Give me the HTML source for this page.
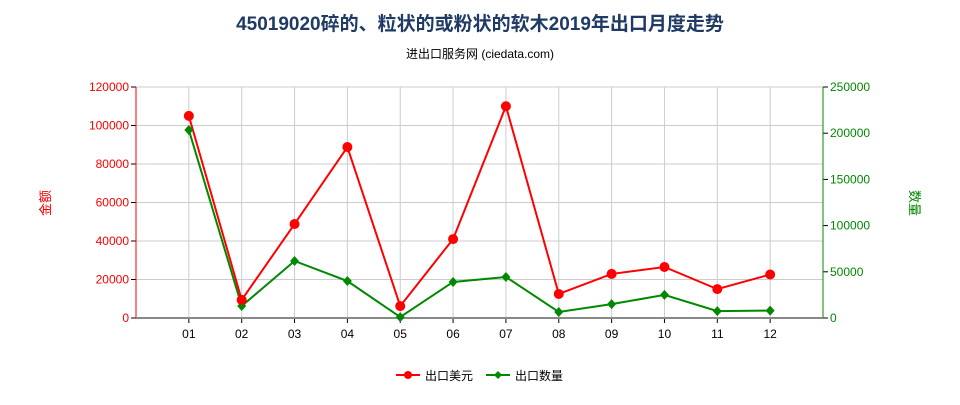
<!DOCTYPE html>
<html><head><meta charset="utf-8"><style>
body{margin:0;background:#fff;}
svg text{font-family:"Liberation Sans","Noto Sans CJK SC",sans-serif;}
</style></head><body>
<svg id="chart" width="960" height="400" xmlns="http://www.w3.org/2000/svg">
<text x="480" y="30" text-anchor="middle" font-size="19" font-weight="bold" fill="#1f3a64">45019020碎的、粒状的或粉状的软木2019年出口月度走势</text>
<text x="480" y="58" text-anchor="middle" font-size="12" fill="#000">进出口服务网 (ciedata.com)</text>
<g id="grid"></g>
<g id="axes"></g>
<g id="series"></g>
<text transform="translate(50,203) rotate(-90)" text-anchor="middle" font-size="13" fill="#f00">金额</text>
<text transform="translate(910,203) rotate(90)" text-anchor="middle" font-size="13" fill="#080">数量</text>
<g>
<line x1="396" y1="375" x2="420" y2="375" stroke="#f00" stroke-width="2"/><circle cx="408" cy="375" r="4" fill="#f00"/>
<text x="425" y="380" font-size="12" fill="#000">出口美元</text></g>
<g>
<line x1="486" y1="375" x2="510" y2="375" stroke="#080" stroke-width="2"/><path d="M498 371 L502 375 L498 379 L494 375Z" fill="#080"/>
<text x="515" y="380" font-size="12" fill="#000">出口数量</text></g>
</svg>
<script>
const categories=["01","02","03","04","05","06","07","08","09","10","11","12"];
const usdValues=[105000,9400,48800,88800,6200,41000,110000,12500,22900,26500,15000,22600];
const qtyValues=[203500,13000,61700,40000,1000,39000,44400,6500,15000,25000,7500,8000];
const leftTicks=[0,20000,40000,60000,80000,100000,120000];
const rightTicks=[0,50000,100000,150000,200000,250000];
const NS="http://www.w3.org/2000/svg";
const X0=136,X1=823,Y0=318,Y1=87;
const band=(X1-X0)/(categories.length+1);
const xs=i=>X0+(i+1)*band;
const yl=v=>Y0-(v/120000)*(Y0-Y1);
const yr=v=>Y0-(v/250000)*(Y0-Y1);
function mk(tag,attrs,parent){const e=document.createElementNS(NS,tag);for(const k in attrs)e.setAttribute(k,attrs[k]);parent.appendChild(e);return e;}
const grid=document.getElementById('grid'),axes=document.getElementById('axes'),series=document.getElementById('series');
leftTicks.forEach(t=>{const y=yl(t);
 const l=mk('line',{x1:X0,x2:X1,y1:y,y2:y,stroke:'#ccc'},grid);
 
 
 mk('line',{x1:X0-5,x2:X0,y1:y,y2:y,stroke:'#000'},axes);
 const tx=mk('text',{x:X0-7,y:y+4,'text-anchor':'end','font-size':12,fill:'#f00'},axes);tx.textContent=t;
 
 });
rightTicks.forEach(t=>{const y=yr(t);
 mk('line',{x1:X1,x2:X1+5,y1:y,y2:y,stroke:'#000'},axes);
 const tx=mk('text',{x:X1+7,y:y+4,'font-size':12,fill:'#080'},axes);tx.textContent=t;
 
 });
[X0,X1].concat(categories.map((c,i)=>xs(i))).forEach(x=>{mk('line',{x1:x,x2:x,y1:Y1,y2:Y0,stroke:'#ccc'},grid);});
categories.forEach((c,i)=>{const x=xs(i);
 mk('line',{x1:x,x2:x,y1:Y0,y2:Y0+5,stroke:'#000'},axes);
 const tx=mk('text',{x:x,y:Y0+20,'text-anchor':'middle','font-size':12,fill:'#000'},axes);tx.textContent=c;
 
 });
mk('line',{x1:X0,x2:X0,y1:Y1,y2:Y0,stroke:'#f00'},axes);
mk('line',{x1:X1,x2:X1,y1:Y1,y2:Y0,stroke:'#080'},axes);
mk('line',{x1:X0,x2:X1,y1:Y0,y2:Y0,stroke:'#888','stroke-width':2},axes);
const gl=mk('polyline',{points:qtyValues.map((v,i)=>xs(i)+','+yr(v)).join(' '),fill:'none',stroke:'#080','stroke-width':2},series);


const rl=mk('polyline',{points:usdValues.map((v,i)=>xs(i)+','+yl(v)).join(' '),fill:'none',stroke:'#f00','stroke-width':2},series);


qtyValues.forEach((v,i)=>{const x=xs(i),y=yr(v);
 const p=mk('path',{d:`M${x} ${y-5}L${x+4.5} ${y}L${x} ${y+5}L${x-4.5} ${y}Z`,fill:'#080'},series);
 
 });
usdValues.forEach((v,i)=>{
 const c=mk('circle',{cx:xs(i),cy:yl(v),r:5,fill:'#f00'},series);
 
 });
</script>
</body></html>
